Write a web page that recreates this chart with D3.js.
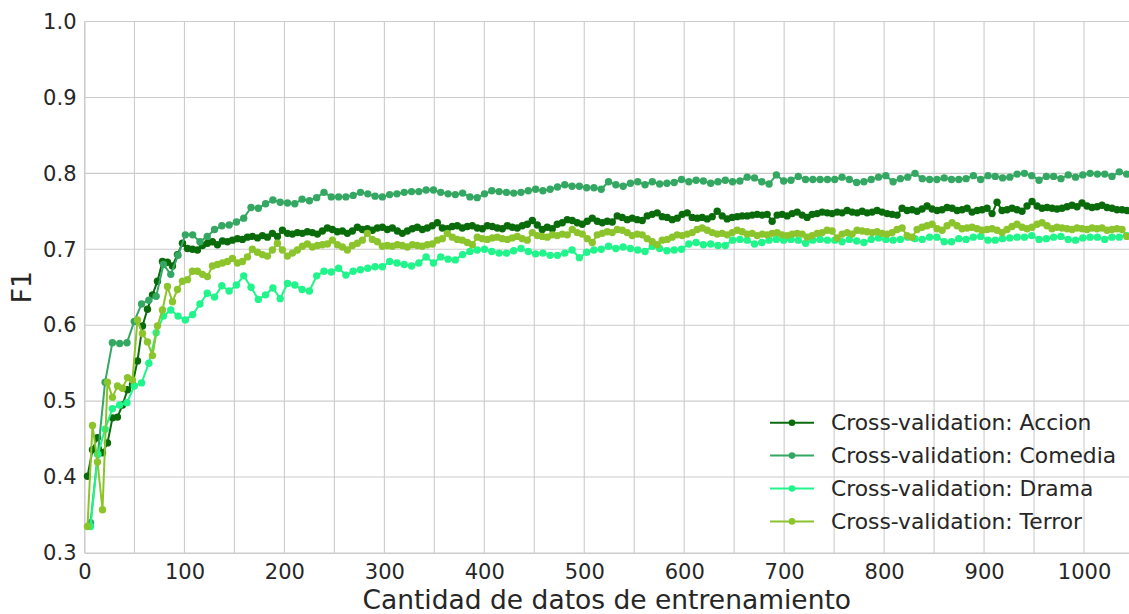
<!DOCTYPE html>
<html>
<head>
<meta charset="utf-8">
<script src="https://cdn.jsdelivr.net/npm/d3@7"></script>
<style>
  html, body { margin: 0; padding: 0; background: #ffffff; }
  svg { display: block; font-family: "DejaVu Sans", sans-serif; }
</style>
</head>
<body>
<svg id="chart" width="1129" height="614"></svg>
<script>
// Training-set sizes: every series was sampled on a regular grid of sizes
const accionStart = 3,  accionStep = 5;
const terrorStart = 3,  terrorStep = 5;
const comediaStart = 6, comediaStep = 7.3;
const dramaStart = 6,   dramaStep = 7.3;

// Cross-validated F1 per genre
const accionF1 = [
  0.401,0.436,0.452,0.432,0.445,0.478,0.479,0.495,0.515,0.522,
  0.553,0.599,0.621,0.640,0.658,0.684,0.683,0.678,0.693,0.708,
  0.701,0.700,0.699,0.705,0.708,0.710,0.706,0.711,0.710,0.712,
  0.714,0.713,0.716,0.717,0.715,0.718,0.716,0.721,0.717,0.725,
  0.721,0.720,0.722,0.721,0.723,0.722,0.720,0.724,0.728,0.726,
  0.723,0.724,0.721,0.724,0.729,0.726,0.727,0.725,0.728,0.729,
  0.726,0.728,0.724,0.721,0.724,0.727,0.729,0.726,0.728,0.731,
  0.735,0.728,0.727,0.730,0.731,0.728,0.730,0.731,0.728,0.727,
  0.731,0.730,0.728,0.727,0.731,0.729,0.728,0.731,0.733,0.738,
  0.732,0.726,0.729,0.727,0.733,0.735,0.739,0.738,0.735,0.733,
  0.737,0.741,0.737,0.735,0.737,0.736,0.744,0.742,0.739,0.741,
  0.739,0.738,0.744,0.746,0.748,0.743,0.742,0.739,0.741,0.746,
  0.748,0.742,0.741,0.742,0.740,0.743,0.750,0.744,0.740,0.742,
  0.743,0.744,0.744,0.745,0.746,0.745,0.746,0.737,0.745,0.746,
  0.744,0.747,0.749,0.745,0.742,0.746,0.747,0.749,0.748,0.747,
  0.749,0.748,0.751,0.749,0.748,0.750,0.748,0.749,0.751,0.749,
  0.747,0.746,0.745,0.754,0.751,0.752,0.750,0.753,0.757,0.753,
  0.751,0.752,0.755,0.754,0.751,0.752,0.754,0.749,0.751,0.752,
  0.754,0.747,0.762,0.751,0.752,0.754,0.752,0.750,0.757,0.763,
  0.757,0.754,0.755,0.754,0.753,0.754,0.756,0.758,0.756,0.761,
  0.757,0.755,0.756,0.758,0.755,0.754,0.752,0.752,0.751
];
const comediaF1 = [
  0.340,0.430,0.525,0.577,0.576,0.577,0.605,0.628,0.633,0.638,
  0.680,0.667,0.692,0.719,0.719,0.710,0.717,0.726,0.731,0.732,
  0.736,0.741,0.755,0.754,0.760,0.765,0.762,0.761,0.760,0.766,
  0.764,0.768,0.775,0.769,0.769,0.769,0.771,0.775,0.773,0.770,
  0.769,0.772,0.773,0.775,0.776,0.776,0.778,0.778,0.775,0.773,
  0.772,0.774,0.769,0.768,0.773,0.777,0.776,0.775,0.774,0.775,
  0.777,0.779,0.777,0.779,0.782,0.785,0.783,0.783,0.781,0.781,
  0.779,0.789,0.785,0.783,0.787,0.789,0.785,0.789,0.786,0.787,
  0.788,0.792,0.789,0.791,0.790,0.787,0.789,0.791,0.789,0.790,
  0.795,0.794,0.789,0.786,0.798,0.790,0.791,0.796,0.792,0.792,
  0.792,0.792,0.792,0.795,0.792,0.788,0.789,0.792,0.795,0.797,
  0.789,0.793,0.795,0.800,0.793,0.792,0.792,0.794,0.792,0.792,
  0.793,0.797,0.792,0.797,0.796,0.794,0.795,0.799,0.800,0.797,
  0.791,0.796,0.796,0.793,0.798,0.795,0.798,0.800,0.799,0.799,
  0.796,0.802,0.799
];
const dramaF1 = [
  0.335,0.430,0.463,0.490,0.495,0.498,0.520,0.524,0.550,0.590,
  0.612,0.620,0.612,0.607,0.614,0.628,0.642,0.637,0.652,0.645,
  0.653,0.665,0.650,0.634,0.640,0.649,0.635,0.655,0.653,0.647,
  0.645,0.665,0.671,0.670,0.675,0.666,0.671,0.673,0.675,0.677,
  0.677,0.684,0.682,0.680,0.678,0.682,0.690,0.682,0.690,0.687,
  0.686,0.693,0.697,0.699,0.700,0.697,0.695,0.695,0.698,0.701,
  0.697,0.694,0.695,0.692,0.692,0.695,0.699,0.689,0.696,0.699,
  0.700,0.704,0.701,0.703,0.701,0.699,0.697,0.704,0.701,0.698,
  0.699,0.700,0.707,0.709,0.706,0.707,0.705,0.705,0.712,0.713,
  0.712,0.707,0.709,0.712,0.713,0.712,0.713,0.712,0.708,0.712,
  0.713,0.712,0.712,0.710,0.713,0.711,0.709,0.713,0.715,0.713,
  0.712,0.713,0.716,0.714,0.713,0.716,0.716,0.710,0.710,0.714,
  0.713,0.716,0.717,0.712,0.712,0.714,0.715,0.716,0.716,0.718,
  0.713,0.714,0.716,0.717,0.713,0.712,0.715,0.716,0.716,0.713,
  0.716,0.716,0.718
];
const terrorF1 = [
  0.335,0.468,0.420,0.357,0.525,0.505,0.520,0.517,0.531,0.528,
  0.607,0.589,0.578,0.560,0.599,0.620,0.651,0.631,0.647,0.658,
  0.660,0.671,0.671,0.667,0.664,0.678,0.680,0.682,0.684,0.688,
  0.682,0.684,0.690,0.700,0.696,0.693,0.691,0.699,0.708,0.699,
  0.691,0.695,0.699,0.704,0.707,0.703,0.705,0.706,0.707,0.712,
  0.706,0.703,0.699,0.705,0.708,0.712,0.721,0.713,0.710,0.704,
  0.705,0.704,0.706,0.705,0.703,0.706,0.705,0.704,0.706,0.707,
  0.712,0.714,0.721,0.716,0.713,0.712,0.709,0.706,0.716,0.714,
  0.713,0.715,0.716,0.714,0.713,0.715,0.717,0.714,0.712,0.722,
  0.718,0.717,0.716,0.719,0.718,0.720,0.719,0.726,0.722,0.720,
  0.714,0.709,0.719,0.721,0.723,0.722,0.726,0.725,0.722,0.718,
  0.720,0.719,0.714,0.710,0.706,0.712,0.713,0.716,0.719,0.718,
  0.720,0.722,0.726,0.728,0.725,0.722,0.720,0.721,0.719,0.722,
  0.725,0.723,0.720,0.721,0.718,0.720,0.719,0.721,0.722,0.719,
  0.718,0.720,0.721,0.720,0.716,0.718,0.721,0.722,0.725,0.724,
  0.715,0.720,0.722,0.720,0.725,0.724,0.723,0.722,0.723,0.721,
  0.720,0.722,0.726,0.728,0.718,0.716,0.726,0.729,0.731,0.733,
  0.727,0.725,0.731,0.735,0.731,0.727,0.728,0.729,0.727,0.725,
  0.726,0.727,0.725,0.722,0.726,0.730,0.733,0.729,0.727,0.729,
  0.733,0.735,0.731,0.727,0.729,0.728,0.727,0.726,0.728,0.727,
  0.726,0.728,0.727,0.728,0.725,0.726,0.727,0.726,0.717
];

const seriesNames = ["Cross-validation: Accion", "Cross-validation: Comedia",
                     "Cross-validation: Drama", "Cross-validation: Terror"];
const seriesColors = ["#0a6b0a", "#34a862", "#1ff58a", "#8cc42c"];

const xTicks = [0, 100, 200, 300, 400, 500, 600, 700, 800, 900, 1000];
const xGrid  = d3.range(0, 1001, 50);
const yTicks = [0.3, 0.4, 0.5, 0.6, 0.7, 0.8, 0.9, 1.0];

const sizes = (start, step, n) => d3.range(n).map(i => start + i * step);
const series = [
  { name: seriesNames[0], color: seriesColors[0], x: sizes(accionStart, accionStep, accionF1.length), y: accionF1 },
  { name: seriesNames[1], color: seriesColors[1], x: sizes(comediaStart, comediaStep, comediaF1.length), y: comediaF1 },
  { name: seriesNames[2], color: seriesColors[2], x: sizes(dramaStart, dramaStep, dramaF1.length), y: dramaF1 },
  { name: seriesNames[3], color: seriesColors[3], x: sizes(terrorStart, terrorStep, terrorF1.length), y: terrorF1 }
];

const svg = d3.select("#chart");
const plotLeft = 84.5, plotRight = 1129, plotTop = 21.5, plotBottom = 553;
const x = d3.scaleLinear().domain([0, 1045]).range([plotLeft, plotRight]);
const y = d3.scaleLinear().domain([0.3, 1.0]).range([plotBottom, plotTop]);

const textColor = "#262626";
const gridColor = "#cccccc";
const markerR = 3.7;

// grid
const grid = svg.append("g");
grid.selectAll("line.v").data(xGrid).join("line")
  .attr("x1", d => x(d)).attr("x2", d => x(d))
  .attr("y1", plotTop).attr("y2", plotBottom)
  .attr("stroke", gridColor).attr("stroke-width", 1.1);
grid.selectAll("line.h").data(yTicks).join("line")
  .attr("x1", plotLeft).attr("x2", plotRight)
  .attr("y1", d => y(d)).attr("y2", d => y(d))
  .attr("stroke", gridColor).attr("stroke-width", 1.1);

// axes (labels only, no tick marks)
const xAxis = svg.append("g").attr("transform", `translate(0,${plotBottom})`)
  .call(d3.axisBottom(x).tickValues(xTicks).tickSize(0).tickPadding(7).tickFormat(d3.format("d")));
const yAxis = svg.append("g").attr("transform", `translate(${plotLeft},0)`)
  .call(d3.axisLeft(y).tickValues(yTicks).tickSize(0).tickPadding(8).tickFormat(d3.format(".1f")));
[xAxis, yAxis].forEach(a => {
  a.select(".domain").attr("stroke", gridColor).attr("stroke-width", 1.1);
  a.selectAll("text").attr("fill", textColor)
    .style("font-size", "21px").style("font-family", "'DejaVu Sans', sans-serif");
});
xAxis.selectAll("text").attr("dy", "0.9em");

// data
const plot = svg.append("g");
const line = d3.line().x(d => x(d[0])).y(d => y(d[1]));
series.forEach(s => {
  const pts = s.x.map((xv, i) => [xv, s.y[i]]);
  const g = plot.append("g");
  g.append("path").datum(pts)
    .attr("d", line).attr("fill", "none")
    .attr("stroke", s.color).attr("stroke-width", 2).attr("stroke-linejoin", "round");
  g.selectAll("circle").data(pts).join("circle")
    .attr("cx", d => x(d[0])).attr("cy", d => y(d[1])).attr("r", markerR)
    .attr("fill", s.color);
});

// axis titles
svg.append("text")
  .attr("x", (plotLeft + plotRight) / 2).attr("y", 609)
  .attr("text-anchor", "middle").attr("fill", textColor)
  .style("font-size", "26.5px").text("Cantidad de datos de entrenamiento");
svg.append("text")
  .attr("transform", `translate(31,${(plotTop + plotBottom) / 2}) rotate(-90)`)
  .attr("text-anchor", "middle").attr("fill", textColor)
  .style("font-size", "26.5px").text("F1");

// legend
const legend = svg.append("g").attr("transform", "translate(770,422.7)");
series.forEach((s, i) => {
  const row = legend.append("g").attr("transform", `translate(0,${i * 32.9})`);
  row.append("line").attr("x1", 0).attr("x2", 44).attr("y1", 0).attr("y2", 0)
    .attr("stroke", s.color).attr("stroke-width", 2);
  row.append("circle").attr("cx", 22).attr("cy", 0).attr("r", 3.3).attr("fill", s.color);
  row.append("text").attr("x", 61).attr("y", 0).attr("dy", "0.35em")
    .attr("fill", textColor).style("font-size", "21.8px").text(s.name);
});
</script>
</body>
</html>
